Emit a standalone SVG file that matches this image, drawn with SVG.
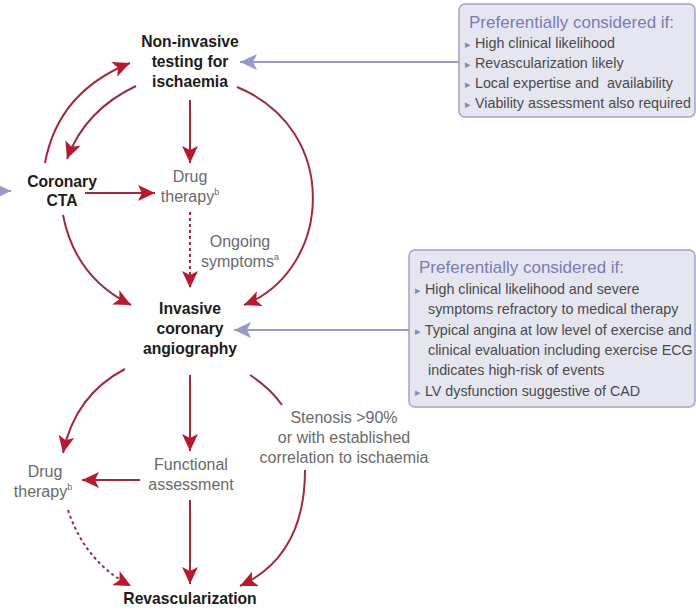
<svg xmlns="http://www.w3.org/2000/svg" width="696" height="611" viewBox="0 0 696 611">
<style>
.bold{font-family:"Liberation Sans",Arial,sans-serif;font-weight:bold;font-size:15.7px;fill:#1c1c1c;text-anchor:middle}
.gray{font-family:"Liberation Sans",Arial,sans-serif;font-size:16px;fill:#6a6a6a;text-anchor:middle}
.box{fill:#e6e6f1;stroke:#a3a3c6;stroke-width:1.5}
.title{font-family:"Liberation Sans",Arial,sans-serif;font-size:17px;fill:#7c7ab4}
.item{font-family:"Liberation Sans",Arial,sans-serif;font-size:14.3px;fill:#4a4a4a}
.bul{fill:#8a8aa8;font-size:11px}
.red{fill:none;stroke:#a02a3e;stroke-width:2;marker-end:url(#ah)}
.redn{fill:none;stroke:#a02a3e;stroke-width:2}
.dot{fill:none;stroke:#a02a3e;stroke-width:2;stroke-dasharray:3 3;marker-end:url(#ah)}
.lav{fill:none;stroke:#9c9cca;stroke-width:2;marker-end:url(#al)}
</style>
<defs>
<marker id="ah" markerUnits="userSpaceOnUse" markerWidth="20" markerHeight="18" refX="17" refY="8" orient="auto">
<path d="M0,0 L17,8 L0,16 L4,8 z" fill="#b51b30"/>
</marker>
<marker id="al" markerUnits="userSpaceOnUse" markerWidth="20" markerHeight="18" refX="17" refY="8" orient="auto">
<path d="M0,0 L17,8 L0,16 L4,8 z" fill="#9898cc"/>
</marker>
</defs>
<rect width="696" height="611" fill="#ffffff"/>

<g id="connectors">
<path class="red" d="M45,163 Q58,92 130,63"/>
<path class="red" d="M136,86 Q85,110 67,159"/>
<path class="red" d="M190,100 L190,163"/>
<path class="red" d="M85,193 L155,193"/>
<path class="dot" d="M190,212 L190,288"/>
<path class="red" d="M63,215 Q75,277 131,305"/>
<path class="red" d="M237,87 C342,130 332,270 244,305"/>
<path class="red" d="M125,369 Q75,395 63,453"/>
<path class="red" d="M190,375 L190,451"/>
<path class="red" d="M140,480 L82,480"/>
<path class="red" d="M190,500 L190,584"/>
<path class="dot" d="M68,510 Q85,562 131,586"/>
<path class="redn" d="M250,375 Q270,388 282,405"/>
<path class="red" d="M305,470 Q305,556 240,586"/>
<path class="lav" d="M459,62 L240,62"/>
<path class="lav" d="M409,330 L234,330"/>
<path class="lav" d="M-10,191 L11,191"/>
</g>

<g id="node-noninvasive">
<text class="bold" x="190" y="47">Non-invasive</text>
<text class="bold" x="190" y="67">testing for</text>
<text class="bold" x="190" y="87">ischaemia</text>
</g>
<g id="node-cta">
<text class="bold" x="62" y="187">Coronary</text>
<text class="bold" x="62" y="206">CTA</text>
</g>
<g id="node-drug1">
<text class="gray" x="190" y="182">Drug</text>
<text class="gray" x="190" y="202">therapy<tspan font-size="9" dy="-7">b</tspan></text>
</g>
<g id="label-ongoing">
<text class="gray" x="240" y="247">Ongoing</text>
<text class="gray" x="240" y="267">symptoms<tspan font-size="9" dy="-7">a</tspan></text>
</g>
<g id="node-invasive">
<text class="bold" x="190" y="314">Invasive</text>
<text class="bold" x="190" y="334">coronary</text>
<text class="bold" x="190" y="354">angiography</text>
</g>
<g id="node-drug2">
<text class="gray" x="45" y="477">Drug</text>
<text class="gray" x="43" y="497">therapy<tspan font-size="9" dy="-7">b</tspan></text>
</g>
<g id="node-functional">
<text class="gray" x="191" y="470">Functional</text>
<text class="gray" x="191" y="490">assessment</text>
</g>
<g id="label-stenosis">
<text class="gray" x="344" y="423">Stenosis &gt;90%</text>
<text class="gray" x="344" y="443">or with established</text>
<text class="gray" x="344" y="463">correlation to ischaemia</text>
</g>
<g id="node-revasc">
<text class="bold" x="190" y="604">Revascularization</text>
</g>

<g id="box-noninvasive">
<rect class="box" x="459" y="4" width="236" height="113" rx="6"/>
<text class="title" x="469" y="28">Preferentially considered if:</text>
<text class="item" x="465" y="48"><tspan class="bul">▸</tspan> High clinical likelihood</text>
<text class="item" x="465" y="68"><tspan class="bul">▸</tspan> Revascularization likely</text>
<text class="item" x="465" y="88" xml:space="preserve"><tspan class="bul">▸</tspan> Local expertise and  availability</text>
<text class="item" x="465" y="108"><tspan class="bul">▸</tspan> Viability assessment also required</text>
</g>
<g id="box-invasive">
<rect class="box" x="409" y="250" width="286" height="157" rx="6"/>
<text class="title" x="419" y="273">Preferentially considered if:</text>
<text class="item" x="415" y="294"><tspan class="bul">▸</tspan> High clinical likelihood and severe</text>
<text class="item" x="428" y="314">symptoms refractory to medical therapy</text>
<text class="item" x="415" y="335"><tspan class="bul">▸</tspan> Typical angina at low level of exercise and</text>
<text class="item" x="428" y="355">clinical evaluation including exercise ECG</text>
<text class="item" x="428" y="375">indicates high-risk of events</text>
<text class="item" x="415" y="396"><tspan class="bul">▸</tspan> LV dysfunction suggestive of CAD</text>
</g>
</svg>
